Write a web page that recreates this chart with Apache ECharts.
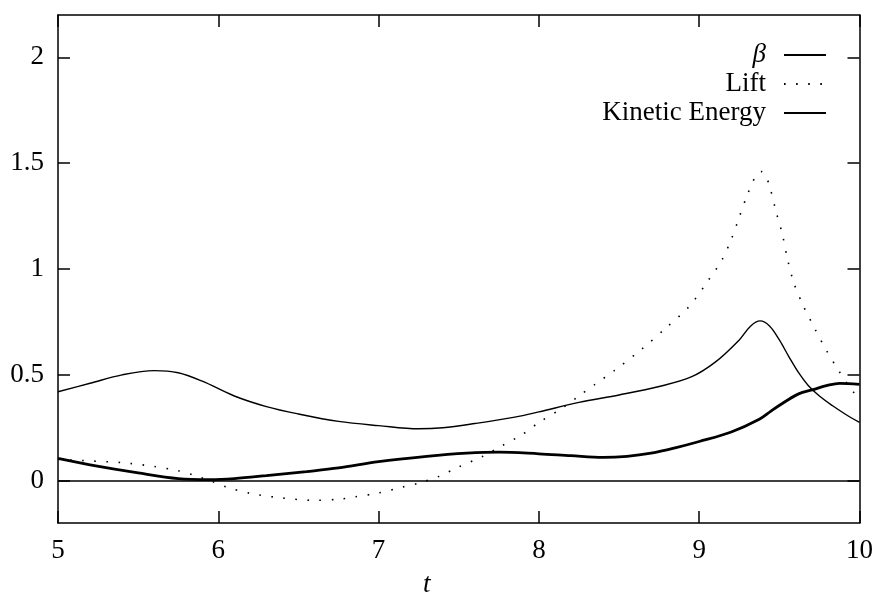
<!DOCTYPE html>
<html>
<head>
<meta charset="utf-8">
<script src="https://cdn.jsdelivr.net/npm/echarts@6/dist/echarts.min.js"></script>
<style>
html,body{margin:0;padding:0;background:#fff;}
#chart{width:876px;height:597px;}
</style>
</head>
<body>
<div id="chart"></div>
<script>
// ---- data ----
const seriesNames = ['β', 'Lift', 'Kinetic Energy'];

const tBeta = [5.0, 5.2, 5.4, 5.6, 5.75, 5.9, 6.1, 6.3, 6.5, 6.75, 7.0, 7.25, 7.4, 7.6, 7.85, 8.0, 8.25, 8.5, 8.75, 8.95, 9.1, 9.25, 9.32, 9.38, 9.44, 9.5, 9.56, 9.62, 9.68, 9.75, 9.83, 9.91, 10.0];
const vBeta = [0.42, 0.46, 0.50, 0.52, 0.51, 0.47, 0.40, 0.35, 0.315, 0.28, 0.26, 0.245, 0.25, 0.27, 0.30, 0.325, 0.37, 0.405, 0.445, 0.49, 0.56, 0.665, 0.73, 0.755, 0.73, 0.665, 0.585, 0.51, 0.45, 0.40, 0.355, 0.315, 0.275];

const tLift = [5.0, 5.15, 5.4, 5.6, 5.75, 5.85, 5.95, 6.05, 6.2, 6.4, 6.6, 6.75, 6.85, 7.0, 7.15, 7.25, 7.375, 7.5, 7.65, 7.77, 7.9, 8.0, 8.15, 8.25, 8.35, 8.47, 8.64, 8.79, 8.94, 9.06, 9.14, 9.2, 9.25, 9.3, 9.36, 9.39, 9.42, 9.44, 9.48, 9.52, 9.55, 9.59, 9.65, 9.72, 9.79, 9.87, 9.96, 10.0];
const vLift = [0.10, 0.095, 0.085, 0.067, 0.047, 0.025, 0.0, -0.03, -0.06, -0.082, -0.093, -0.088, -0.077, -0.058, -0.03, -0.012, 0.02, 0.065, 0.115, 0.165, 0.22, 0.275, 0.345, 0.40, 0.455, 0.52, 0.62, 0.72, 0.825, 0.95, 1.04, 1.14, 1.245, 1.35, 1.45, 1.46, 1.43, 1.39, 1.27, 1.16, 1.05, 0.935, 0.825, 0.72, 0.62, 0.52, 0.42, 0.40];

const tKE = [5.0, 5.2, 5.5, 5.75, 5.95, 6.1, 6.3, 6.55, 6.75, 7.0, 7.3, 7.55, 7.75, 8.0, 8.2, 8.4, 8.55, 8.7, 8.85, 9.0, 9.2, 9.375, 9.45, 9.54, 9.62, 9.71, 9.8, 9.875, 10.0];
const vKE = [0.105, 0.075, 0.037, 0.01, 0.005, 0.01, 0.024, 0.043, 0.06, 0.09, 0.115, 0.13, 0.135, 0.127, 0.118, 0.11, 0.115, 0.13, 0.155, 0.185, 0.23, 0.29, 0.33, 0.375, 0.41, 0.43, 0.45, 0.46, 0.455];

const xTicks = [5, 6, 7, 8, 9, 10];
const yTicks = [0, 0.5, 1, 1.5, 2];
const xLabel = 't';

// ---- build chart ----
const zip = (ts, vs) => ts.map((t, i) => [t, vs[i]]);
const FONT = '"Liberation Serif", "DejaVu Serif", serif';
const FS = 27;

const chart = echarts.init(document.getElementById('chart'), null, {renderer: 'canvas'});

const axisLineStyle = {color: '#000', width: 1.5};

chart.setOption({
  animation: false,
  backgroundColor: '#fff',
  grid: {left: 58, right: 15, top: 15, bottom: 74, containLabel: false},
  legend: {
    orient: 'vertical',
    right: 44,
    top: 36,
    align: 'right',
    itemWidth: 42,
    itemHeight: 14,
    itemGap: 1,
    data: seriesNames,
    itemStyle: {opacity: 0},
    formatter: function (name) { return name === 'β' ? '{i|β}' : name; },
    textStyle: {
      fontFamily: FONT, fontSize: FS, color: '#000', lineHeight: 28,
      padding: [0, 13, 0, 0],
      rich: {i: {fontFamily: FONT, fontSize: FS, fontStyle: 'italic', color: '#000', lineHeight: 28}}
    },
    selectedMode: false
  },
  xAxis: [{
    type: 'value', min: xTicks[0], max: xTicks[xTicks.length - 1], interval: 1,
    position: 'bottom',
    axisLine: {show: true, onZero: false, lineStyle: axisLineStyle},
    axisTick: {show: true, inside: true, length: 12, lineStyle: axisLineStyle},
    axisLabel: {show: true, margin: 14, fontFamily: FONT, fontSize: FS, color: '#000',
      formatter: v => String(v)},
    splitLine: {show: false}
  }, {
    type: 'value', min: xTicks[0], max: xTicks[xTicks.length - 1], interval: 1,
    position: 'top',
    axisLine: {show: true, onZero: false, lineStyle: axisLineStyle},
    axisTick: {show: true, inside: true, length: 12, lineStyle: axisLineStyle},
    axisLabel: {show: false},
    splitLine: {show: false}
  }],
  yAxis: [{
    type: 'value', min: -0.2, max: 2.2,
    position: 'left',
    axisLine: {show: true, onZero: false, lineStyle: axisLineStyle},
    axisTick: {show: true, inside: true, length: 12, lineStyle: axisLineStyle, customValues: yTicks},
    axisLabel: {show: true, margin: 14, fontFamily: FONT, fontSize: FS, color: '#000',
      customValues: yTicks, formatter: v => String(v)},
    splitLine: {show: false}
  }, {
    type: 'value', min: -0.2, max: 2.2,
    position: 'right',
    axisLine: {show: true, onZero: false, lineStyle: axisLineStyle},
    axisTick: {show: true, inside: true, length: 12, lineStyle: axisLineStyle, customValues: yTicks},
    axisLabel: {show: false},
    splitLine: {show: false}
  }],
  graphic: [{
    type: 'text', left: 423, top: 571, silent: true,
    style: {text: xLabel, font: 'italic ' + FS + 'px ' + FONT, fill: '#000'}
  }],
  series: [{
    name: seriesNames[0], type: 'line', data: zip(tBeta, vBeta),
    xAxisIndex: 0, yAxisIndex: 0,
    symbol: 'none', smooth: 0.35, clip: true,
    lineStyle: {color: '#000', width: 1.4},
    itemStyle: {color: '#000'},
    markLine: {
      silent: true, symbol: 'none', label: {show: false},
      lineStyle: {color: '#000', width: 1.5, type: 'solid'},
      data: [{yAxis: 0}]
    }
  }, {
    name: seriesNames[1], type: 'line', data: zip(tLift, vLift),
    xAxisIndex: 0, yAxisIndex: 0,
    symbol: 'none', smooth: 0.3, clip: true,
    lineStyle: {color: '#000', width: 1.6, type: [1.6, 10.5]},
    itemStyle: {color: '#000'}
  }, {
    name: seriesNames[2], type: 'line', data: zip(tKE, vKE),
    xAxisIndex: 0, yAxisIndex: 0,
    symbol: 'none', smooth: 0.35, clip: true,
    lineStyle: {color: '#000', width: 2.8},
    itemStyle: {color: '#000'}
  }]
});
</script>
</body>
</html>
